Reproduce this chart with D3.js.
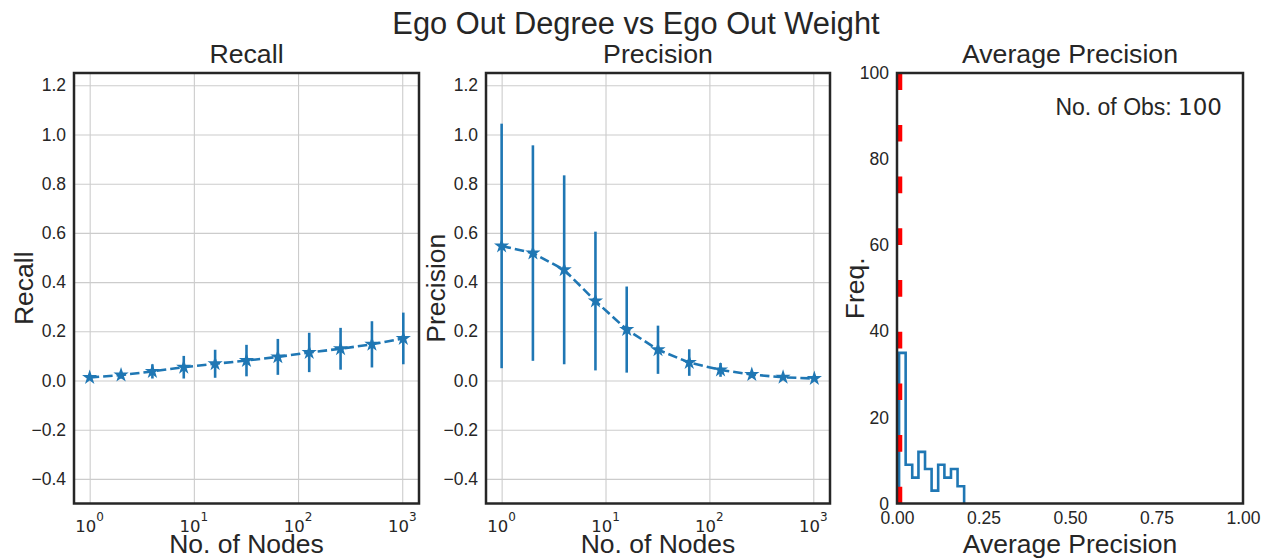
<!DOCTYPE html>
<html>
<head>
<meta charset="utf-8">
<script src="https://cdn.jsdelivr.net/npm/d3@7"></script>
<style>
  body { margin: 0; background: #fff; }
  text { font-family: "Liberation Sans", Arial, sans-serif; fill: #262626; }
</style>
</head>
<body>
<svg id="chart" width="1264" height="558"></svg>
<script>
// values
const nodes = [1, 2, 4, 8, 16, 32, 64, 128, 256, 512, 1024];
const recallMean = [0.012, 0.022, 0.037, 0.054, 0.068, 0.081, 0.096, 0.114, 0.129, 0.147, 0.171];
const recallStd = [0.008, 0.014, 0.029, 0.046, 0.057, 0.064, 0.073, 0.080, 0.085, 0.094, 0.105];
const precisionMean = [0.547, 0.518, 0.450, 0.323, 0.207, 0.125, 0.073, 0.043, 0.024, 0.013, 0.008];
const precisionStd = [0.497, 0.438, 0.384, 0.282, 0.175, 0.098, 0.054, 0.028, 0.012, 0.006, 0.004];
const apBinEdges = [0.006, 0.025, 0.044, 0.062, 0.081, 0.100, 0.119, 0.137, 0.156, 0.175, 0.194];
const apCounts = [35, 9, 6, 12, 8, 3, 9, 6, 8, 4];
const apBaseline = 0.009;
const numObs = 100;

const logTicks = [1, 10, 100, 1000];
const scoreTicks = [-0.4, -0.2, 0.0, 0.2, 0.4, 0.6, 0.8, 1.0, 1.2];
const freqTicks = [0, 20, 40, 60, 80, 100];
const apTicks = [0, 0.25, 0.5, 0.75, 1.0];

const blue = "#1f77b4";
const dark = "#262626";
const plotTop = 73, plotBottom = 503.5;

const svg = d3.select("#chart");

svg.append("text")
    .attr("x", 636).attr("y", 34)
    .attr("text-anchor", "middle")
    .style("font-size", "30.8px")
    .text("Ego Out Degree vs Ego Out Weight");

function tickText(a) {
    a.select(".domain").remove();
    a.selectAll("text")
        .style("font-size", "17.5px").style("font-family", "Liberation Sans, Arial, sans-serif")
        .attr("fill", dark);
}

function lineRow(left, right, title, ylab, ylabX, mean, std) {
    const x = d3.scaleLog()
        .domain([Math.pow(10, -0.1505), Math.pow(10, 3.161)])
        .range([left, right]);
    const y = d3.scaleLinear().domain([-0.5, 1.25]).range([plotBottom, plotTop]);
    const g = svg.append("g");

    // grid
    g.append("g")
        .attr("transform", `translate(0,${plotBottom})`)
        .call(d3.axisBottom(x).tickValues(logTicks).tickSize(-(plotBottom - plotTop)).tickFormat(""))
        .call(a => a.select(".domain").remove())
        .call(a => a.selectAll("line").attr("stroke", "#cccccc").attr("stroke-width", 1.1));
    g.append("g")
        .attr("transform", `translate(${left},0)`)
        .call(d3.axisLeft(y).tickValues(scoreTicks).tickSize(-(right - left)).tickFormat(""))
        .call(a => a.select(".domain").remove())
        .call(a => a.selectAll("line").attr("stroke", "#cccccc").attr("stroke-width", 1.1));

    // y tick labels
    g.append("g")
        .attr("transform", `translate(${left},0)`)
        .call(d3.axisLeft(y).tickValues(scoreTicks).tickSize(0).tickPadding(8).tickFormat(d3.format(".1f")))
        .call(tickText);

    // log tick labels 10^n
    const lt = g.append("g").selectAll("text")
        .data(logTicks).join("text")
        .attr("x", d => x(d))
        .attr("y", plotBottom + 28)
        .attr("text-anchor", "middle")
        .style("font-family", "DejaVu Sans, sans-serif")
        .style("font-size", "16.5px");
    lt.append("tspan").text("10");
    lt.append("tspan")
        .attr("dy", -11)
        .style("font-size", "12px")
        .text(d => Math.round(Math.log10(d)));

    // error bars
    g.append("g").selectAll("line")
        .data(nodes).join("line")
        .attr("x1", d => x(d)).attr("x2", d => x(d))
        .attr("y1", (d, i) => y(mean[i] - std[i]))
        .attr("y2", (d, i) => y(mean[i] + std[i]))
        .attr("stroke", blue).attr("stroke-width", 2.6);

    // dashed mean line
    g.append("path")
        .datum(nodes)
        .attr("d", d3.line().x(d => x(d)).y((d, i) => y(mean[i])))
        .attr("fill", "none")
        .attr("stroke", blue)
        .attr("stroke-width", 2.6)
        .attr("stroke-dasharray", "9.5,4");

    // star markers
    g.append("g").selectAll("path")
        .data(nodes).join("path")
        .attr("transform", (d, i) => `translate(${x(d)},${y(mean[i])})`)
        .attr("d", d3.symbol(d3.symbolStar, 72)())
        .attr("fill", blue);

    // frame
    g.append("rect")
        .attr("x", left).attr("y", plotTop)
        .attr("width", right - left).attr("height", plotBottom - plotTop)
        .attr("fill", "none").attr("stroke", dark).attr("stroke-width", 2.5);

    g.append("text")
        .attr("x", (left + right) / 2).attr("y", 63)
        .attr("text-anchor", "middle").style("font-size", "26.7px")
        .text(title);
    g.append("text")
        .attr("x", (left + right) / 2).attr("y", 553)
        .attr("text-anchor", "middle").style("font-size", "26.5px")
        .text("No. of Nodes");
    g.append("text")
        .attr("transform", `translate(${ylabX},${(plotTop + plotBottom) / 2}) rotate(-90)`)
        .attr("text-anchor", "middle").style("font-size", "26.5px")
        .text(ylab);
}

lineRow(74, 419, "Recall", "Recall", 33, recallMean, recallStd);
lineRow(486, 830, "Precision", "Precision", 445, precisionMean, precisionStd);

// histogram panel
{
    const left = 897, right = 1243;
    const x = d3.scaleLinear().domain([0, 1]).range([left, right]);
    const y = d3.scaleLinear().domain([0, 100]).range([plotBottom, plotTop]);
    const g = svg.append("g");

    g.append("g")
        .attr("transform", `translate(${left},0)`)
        .call(d3.axisLeft(y).tickValues(freqTicks).tickSize(0).tickPadding(8).tickFormat(d3.format("d")))
        .call(tickText);
    g.append("g")
        .attr("transform", `translate(0,${plotBottom})`)
        .call(d3.axisBottom(x).tickValues(apTicks).tickSize(0).tickPadding(8).tickFormat(d3.format(".2f")))
        .call(tickText);

    // step outline
    const pts = [[apBinEdges[0], 0]];
    apCounts.forEach((c, i) => {
        pts.push([apBinEdges[i], c]);
        pts.push([apBinEdges[i + 1], c]);
    });
    pts.push([apBinEdges[apBinEdges.length - 1], 0]);
    g.append("path")
        .datum(pts)
        .attr("d", d3.line().x(d => x(d[0])).y(d => y(d[1])))
        .attr("fill", "none")
        .attr("stroke", blue)
        .attr("stroke-width", 2.6);

    g.append("line")
        .attr("x1", x(apBaseline)).attr("x2", x(apBaseline))
        .attr("y1", plotBottom).attr("y2", plotTop)
        .attr("stroke", "red").attr("stroke-width", 4.3)
        .attr("stroke-dasharray", "16.7,35");

    g.append("rect")
        .attr("x", left).attr("y", plotTop)
        .attr("width", right - left).attr("height", plotBottom - plotTop)
        .attr("fill", "none").attr("stroke", dark).attr("stroke-width", 2.5);

    const obs = g.append("text")
        .attr("x", 1222).attr("y", 115)
        .attr("text-anchor", "end").style("font-size", "23px");
    obs.append("tspan").text("No. of Obs: ");
    obs.append("tspan").style("font-family", "DejaVu Sans, sans-serif").text(numObs);

    g.append("text")
        .attr("x", (left + right) / 2).attr("y", 63)
        .attr("text-anchor", "middle").style("font-size", "26.7px")
        .text("Average Precision");
    g.append("text")
        .attr("x", (left + right) / 2).attr("y", 553)
        .attr("text-anchor", "middle").style("font-size", "26.5px")
        .text("Average Precision");
    g.append("text")
        .attr("transform", `translate(864,${(plotTop + plotBottom) / 2}) rotate(-90)`)
        .attr("text-anchor", "middle").style("font-size", "26.5px")
        .text("Freq.");
}
</script>
</body>
</html>
